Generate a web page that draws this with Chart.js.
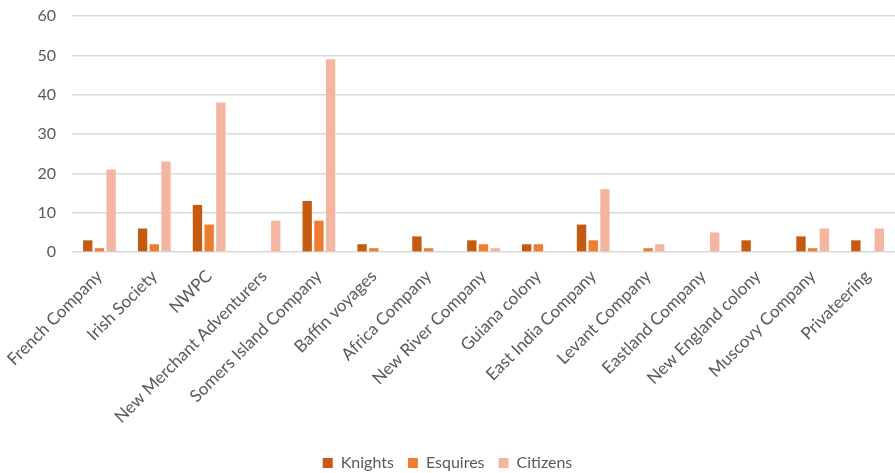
<!DOCTYPE html>
<html>
<head>
<meta charset="utf-8">
<script src="https://cdn.jsdelivr.net/npm/chart.js@4/dist/chart.umd.min.js"></script>
<style>
  html, body { margin: 0; padding: 0; background: #fff; }
  #wrap { width: 895px; height: 473px; position: relative; }
</style>
</head>
<body>
<div id="wrap"><canvas id="chart"></canvas></div>
<script>
// Data
const categories = [
  "French Company", "Irish Society", "NWPC", "New Merchant Adventurers",
  "Somers Island Company", "Baffin voyages", "Africa Company", "New River Company",
  "Guiana colony", "East India Company", "Levant Company", "Eastland Company",
  "New England colony", "Muscovy Company", "Privateering"
];
const knights  = [3, 6, 12, 0, 13, 2, 4, 3, 2, 7, 0, 0, 3, 4, 3];
const esquires = [1, 2, 7, 0, 8, 1, 1, 2, 2, 3, 1, 0, 0, 1, 0];
const citizens = [21, 23, 38, 8, 49, 0, 0, 1, 0, 16, 2, 5, 0, 6, 6];
const yTicks = [0, 10, 20, 30, 40, 50, 60];

const COLORS = {
  knights: "#C55A11",
  esquires: "#ED7D31",
  citizens: "#F4B6A0",
  text: "#595959",
  grid: "#D9D9D9",
};

const FONT = "Lato, 'Open Sans', sans-serif";

// Legend sits a bit lower than Chart.js puts it by default
const legendShift = {
  id: "legendShift",
  afterLayout(chart) {
    chart.legend.top += 8;
    chart.legend.bottom += 8;
  },
};

const ctx = document.getElementById("chart").getContext("2d");

new Chart(ctx, {
  type: "bar",
  data: {
    labels: categories,
    datasets: [
      { label: "Knights", data: knights, backgroundColor: COLORS.knights },
      { label: "Esquires", data: esquires, backgroundColor: COLORS.esquires },
      { label: "Citizens", data: citizens, backgroundColor: COLORS.citizens },
    ],
  },
  plugins: [legendShift],
  options: {
    responsive: true,
    maintainAspectRatio: false,
    animation: false,
    datasets: {
      bar: { categoryPercentage: 0.64, barPercentage: 0.8 },
    },
    layout: { padding: { top: 16, right: 0, left: 0, bottom: 0 } },
    plugins: {
      tooltip: { enabled: false },
      legend: {
        position: "bottom",
        labels: {
          color: COLORS.text,
          font: { family: FONT, size: 16 },
          boxWidth: 10,
          boxHeight: 10,
          padding: 14,
        },
      },
    },
    scales: {
      x: {
        grid: { display: false },
        border: { display: false },
        ticks: {
          color: COLORS.text,
          font: { family: FONT, size: 17 },
          minRotation: 45,
          maxRotation: 45,
          autoSkip: false,
          padding: 6,
        },
      },
      y: {
        min: 0,
        max: 60,
        afterBuildTicks: (axis) => {
          axis.ticks = yTicks.map((v) => ({ value: v }));
        },
        afterFit: (axis) => {
          axis.width = 72;
        },
        // invisible tick marks give the label gap without padding the top
        grid: {
          color: COLORS.grid,
          lineWidth: 1.5,
          drawTicks: true,
          tickLength: 16,
          tickColor: "rgba(0,0,0,0)",
        },
        border: { display: false },
        ticks: {
          color: COLORS.text,
          font: { family: FONT, size: 16 },
          padding: 0,
        },
      },
    },
  },
});
</script>
</body>
</html>
